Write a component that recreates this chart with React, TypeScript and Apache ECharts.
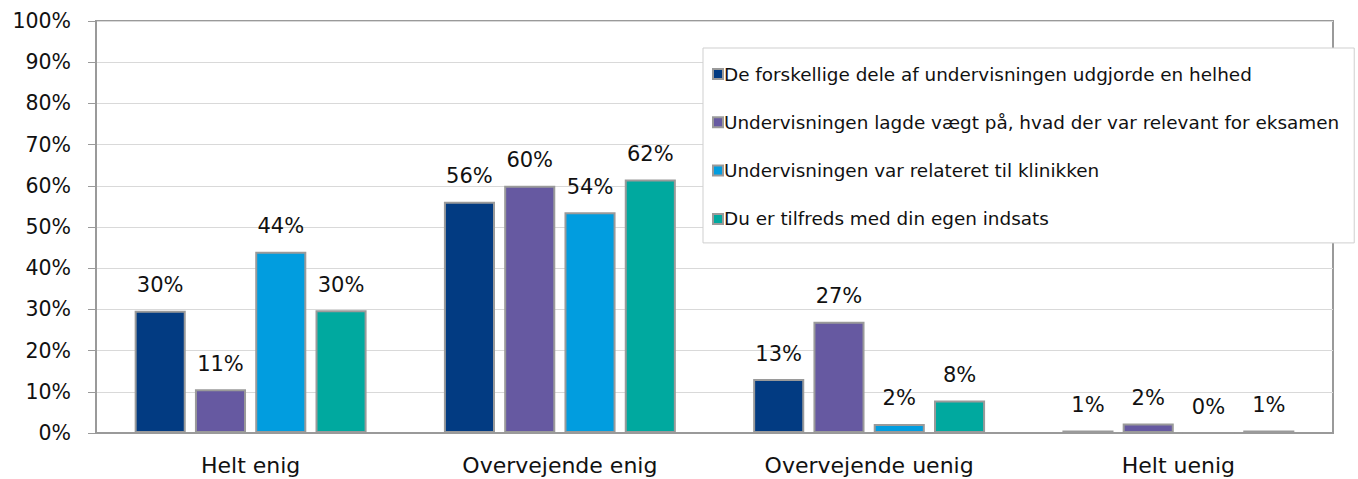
import React, { useEffect, useRef } from "react";
import * as echarts from "echarts";

const categories = ["Helt enig", "Overvejende enig", "Overvejende uenig", "Helt uenig"];
const seriesNames = [
  "De forskellige dele af undervisningen udgjorde en helhed",
  "Undervisningen lagde vægt på, hvad der var relevant for eksamen",
  "Undervisningen var relateret til klinikken",
  "Du er tilfreds med din egen indsats",
];
const s1 = [29.7, 56.1, 13.1, 0.6];
const s2 = [10.6, 60.0, 27.0, 2.3];
const s3 = [44.0, 53.6, 2.2, 0];
const s4 = [29.8, 61.5, 7.9, 0.6];
const colors = ["#023B82", "#6659A1", "#019DDF", "#00A99F"];
const yTicks = [0, 10, 20, 30, 40, 50, 60, 70, 80, 90, 100];

const FONT = "DejaVu Sans";

export default function App() {
  const ref = useRef<HTMLDivElement>(null);
  useEffect(() => {
    document.body.style.margin = "0";
    const chart = echarts.init(ref.current!, null, { renderer: "svg" });
    const data = [s1, s2, s3, s4];
    chart.setOption({
      animation: false,
      textStyle: { fontFamily: FONT },
      grid: {
        left: 96,
        right: 25,
        top: 21,
        bottom: 46,
        show: true,
        borderColor: "#9a9a9a",
        borderWidth: 2,
      },
      legend: {
        orient: "vertical",
        left: 703,
        top: 48,
        padding: [17, 15, 15, 9],
        backgroundColor: "#ffffff",
        borderColor: "#cfcfcf",
        borderWidth: 1,
        itemWidth: 10,
        itemHeight: 10,
        itemGap: 30.3,
        icon: "rect",
        textStyle: { fontSize: 18.4, color: "#111", fontFamily: FONT, padding: [0, 0, 0, -4] },
        data: seriesNames,
      },
      xAxis: {
        type: "category",
        data: categories,
        axisLine: { lineStyle: { color: "#9a9a9a", width: 2 } },
        axisTick: { show: false },
        axisLabel: { fontSize: 22, color: "#111", margin: 21, fontFamily: FONT },
      },
      yAxis: {
        type: "value",
        min: 0,
        max: 100,
        interval: 10,
        axisLine: { show: true, lineStyle: { color: "#9a9a9a", width: 2 } },
        axisTick: { show: true, length: 8, lineStyle: { color: "#9a9a9a" } },
        splitLine: { lineStyle: { color: "#d9d9d9", width: 1 } },
        axisLabel: {
          fontSize: 20.5,
          color: "#111",
          margin: 25,
          fontFamily: FONT,
          formatter: (v: number) => (yTicks.includes(v) ? v + "%" : ""),
        },
      },
      series: data.map((d, i) => ({
        name: seriesNames[i],
        type: "bar",
        data: d,
        barGap: "18%",
        barCategoryGap: "25%",
        itemStyle: { color: colors[i], borderColor: "#9a9a9a", borderWidth: 2 },
        label: {
          show: true,
          position: "top",
          distance: 15,
          fontSize: 21,
          color: "#111",
          fontFamily: FONT,
          formatter: (p: any) => Math.round(p.value) + "%",
        },
      })),
    });
    return () => chart.dispose();
  }, []);
  return <div ref={ref} style={{ width: 1358, height: 479 }} />;
}
